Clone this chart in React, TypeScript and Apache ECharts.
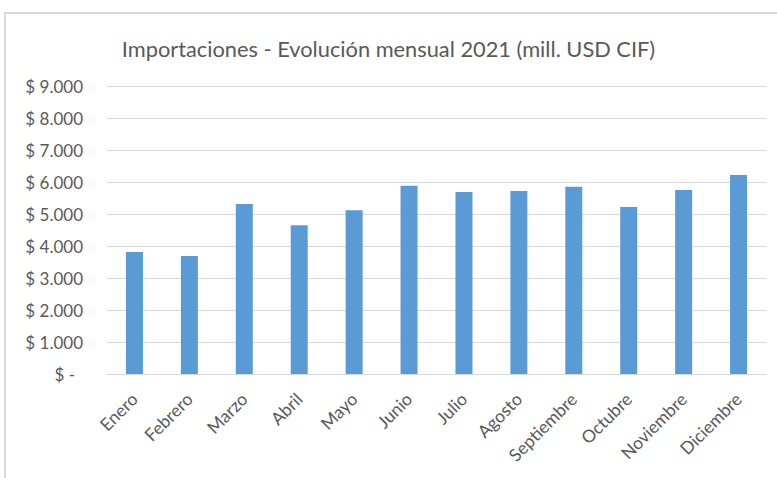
import React, { useEffect, useRef } from "react";
import * as echarts from "echarts";

const TITLE = "Importaciones - Evolución mensual 2021 (mill. USD CIF)";
const months = [
  "Enero", "Febrero", "Marzo", "Abril", "Mayo", "Junio",
  "Julio", "Agosto", "Septiembre", "Octubre", "Noviembre", "Diciembre",
];
const imports = [3810, 3690, 5310, 4650, 5120, 5880, 5690, 5720, 5850, 5220, 5750, 6220];
const yMin = 0;
const yMax = 9000;
const yStep = 1000;

const FONT = "Lato, 'Open Sans', sans-serif";
const TEXT = "#595959";

function fmt(v: number): string {
  if (v === 0) return "{d|$ -}";
  return "$ " + String(v).replace(/\B(?=(\d{3})+(?!\d))/g, ".");
}

export default function App() {
  const ref = useRef<HTMLDivElement>(null);
  useEffect(() => {
    if (!ref.current) return;
    const chart = echarts.init(ref.current, undefined, { renderer: "svg" });
    chart.setOption({
      animation: false,
      backgroundColor: "#ffffff",
      title: {
        text: TITLE,
        left: "center",
        top: 32,
        textStyle: { fontFamily: FONT, fontSize: 21.8, fontWeight: "normal", color: TEXT },
      },
      graphic: [
        {
          type: "rect",
          shape: { x: 5, y: 13, width: 790, height: 490 },
          style: { fill: "none", stroke: "#d9d9d9", lineWidth: 2 },
          silent: true,
        },
      ],
      grid: { left: 107, right: 11, top: 86, bottom: 104 },
      xAxis: {
        type: "category",
        data: months,
        axisLine: { lineStyle: { color: "#d9d9d9", width: 1 } },
        axisTick: { show: false },
        axisLabel: {
          rotate: 45,
          interval: 0,
          margin: 22,
          color: TEXT,
          fontFamily: FONT,
          fontSize: 17.5,
        },
      },
      yAxis: {
        type: "value",
        min: yMin,
        max: yMax,
        interval: yStep,
        axisLine: { show: false },
        axisTick: { show: false },
        splitLine: { lineStyle: { color: "#d9d9d9", width: 1 } },
        axisLabel: {
          margin: 24,
          color: TEXT,
          fontFamily: FONT,
          fontSize: 17,
          formatter: fmt,
          rich: { d: { color: TEXT, fontFamily: FONT, fontSize: 17, padding: [0, 8, 0, 0] } },
        },
      },
      series: [
        {
          type: "bar",
          data: imports,
          barWidth: 17,
          itemStyle: { color: "#5b9bd5" },
        },
      ],
    });
    return () => chart.dispose();
  }, []);
  return (
    <div
      ref={ref}
      style={{ position: "absolute", left: 0, top: 0, width: 777, height: 478 }}
    />
  );
}
